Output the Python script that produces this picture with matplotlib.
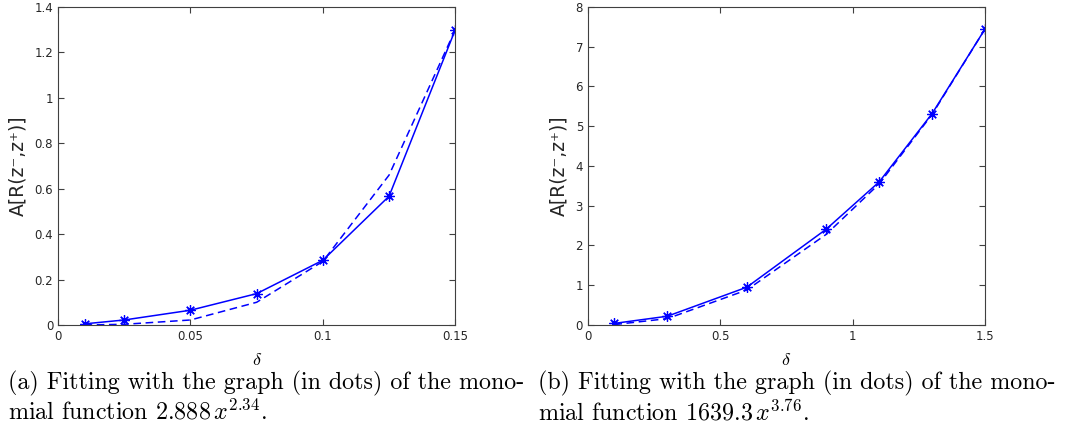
import numpy as np
import matplotlib
matplotlib.use("Agg")
from matplotlib import pyplot as plt

plt.rcParams['mathtext.fontset'] = 'cm'
plt.rcParams['axes.unicode_minus'] = False

# Panel (a)
delta_a = [0.01, 0.025, 0.05, 0.075, 0.1, 0.125, 0.15]
area_a = [0.005, 0.022, 0.065, 0.138, 0.285, 0.567, 1.30]
fit_a = [0.0, 0.003, 0.022, 0.10, 0.28, 0.66, 1.30]
xticks_a = [0, 0.05, 0.1, 0.15]
xlabels_a = ["0", "0.05", "0.1", "0.15"]
yticks_a = [0, 0.2, 0.4, 0.6, 0.8, 1.0, 1.2, 1.4]
ylabels_a = ["0", "0.2", "0.4", "0.6", "0.8", "1", "1.2", "1.4"]
caption_a = ["(a) Fitting with the graph (in dots) of the mono-",
             r"mial function $2.888\,x^{2.34}$."]

# Panel (b)
delta_b = [0.1, 0.3, 0.6, 0.9, 1.1, 1.3, 1.5]
area_b = [0.04, 0.22, 0.95, 2.41, 3.60, 5.32, 7.45]
fit_b = [0.01, 0.16, 0.88, 2.28, 3.55, 5.30, 7.45]
xticks_b = [0, 0.5, 1, 1.5]
xlabels_b = ["0", "0.5", "1", "1.5"]
yticks_b = [0, 1, 2, 3, 4, 5, 6, 7, 8]
ylabels_b = ["0", "1", "2", "3", "4", "5", "6", "7", "8"]
caption_b = ["(b) Fitting with the graph (in dots) of the mono-",
             r"mial function $1639.3\,x^{3.76}$."]

fig = plt.figure(figsize=(10.65, 4.28), dpi=100)

panels = [
    (0.0545, delta_a, area_a, fit_a, xticks_a, xlabels_a, yticks_a, ylabels_a, caption_a, (0, 0.15), (0, 1.4)),
    (0.552, delta_b, area_b, fit_b, xticks_b, xlabels_b, yticks_b, ylabels_b, caption_b, (0, 1.5), (0, 8)),
]

for left, x, y, yfit, xt, xl, yt, yl, cap, xlim, ylim in panels:
    ax = fig.add_axes([left, 0.2407, 0.373, 0.743])
    ax.plot(x, y, '-', color='blue', lw=1.1, marker=(8, 2, 0), ms=7.5, mew=0.9)
    ax.plot(x, yfit, '--', color='blue', lw=1.1, dashes=(5, 3))
    ax.set_xlim(*xlim)
    ax.set_ylim(*ylim)
    ax.set_xticks(xt)
    ax.set_xticklabels(xl)
    ax.set_yticks(yt)
    ax.set_yticklabels(yl)
    ax.tick_params(direction='in', top=True, right=True, length=4, width=0.8,
                   labelsize=8.5, colors='#404040', labelcolor='#262626')
    for s in ax.spines.values():
        s.set_color('#404040')
        s.set_linewidth(0.8)
    ax.set_xlabel(r"$\delta$", fontsize=13, labelpad=6)
    ax.set_ylabel("A[R(z\u207b,z\u207a)]", fontsize=13.5, color='#262626', labelpad=5)
    fx = left - 0.047
    fig.text(fx, 0.105, cap[0], fontfamily='cmr10', fontsize=17.3, va='center')
    fig.text(fx, 0.037, cap[1], fontfamily='cmr10', fontsize=17.3, va='center')

fig.savefig("out.png", dpi=100)
